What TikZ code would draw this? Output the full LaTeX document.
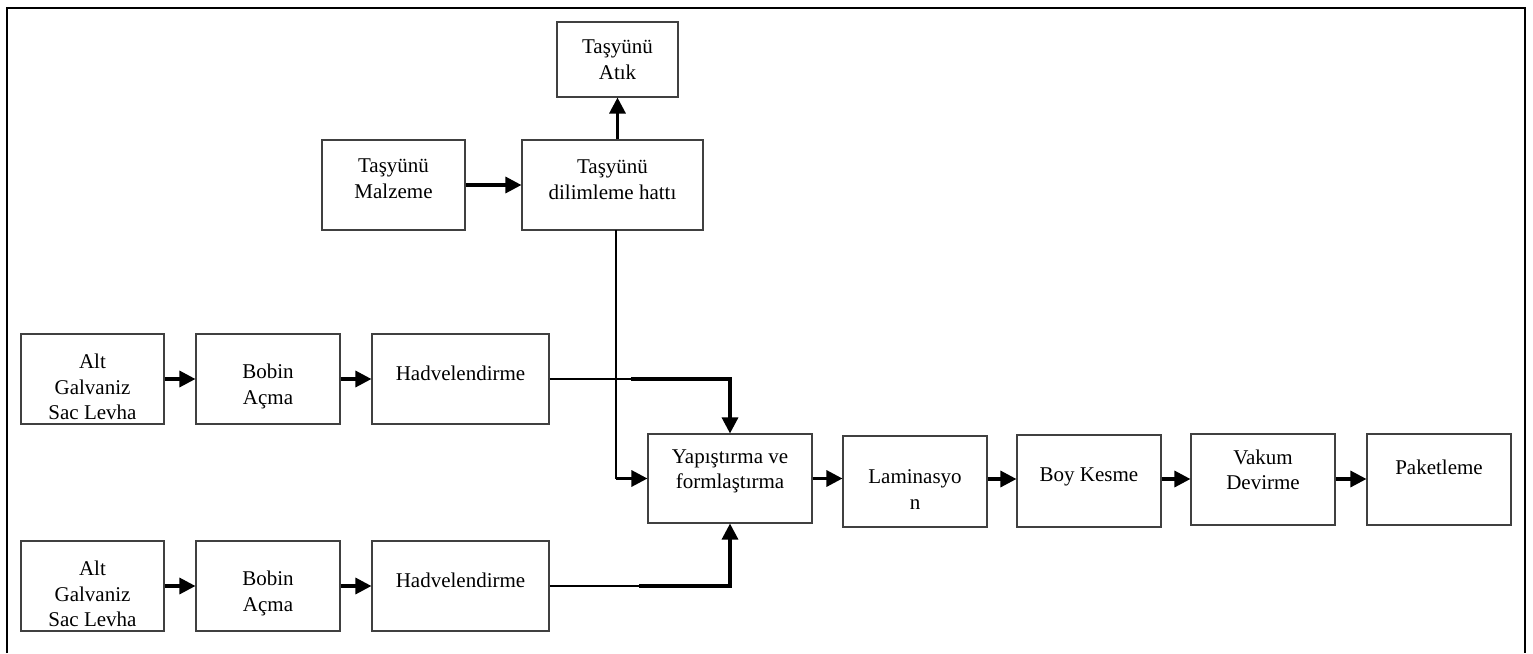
\documentclass[tikz,border=0pt]{standalone}
\usepackage{fontspec}
\setmainfont{Liberation Serif}
\usetikzlibrary{arrows.meta}
\begin{document}
\begin{tikzpicture}[x=1pt,y=-1pt,
  box/.style={draw=black!75,line width=1.1pt,rectangle,inner sep=0pt},
  txt/.style={align=center,inner sep=0pt,font=\fontsize{21}{25.5}\selectfont},
  thin/.style={draw=black,line width=1.1pt},
  arr/.style={draw=black,line width=3.2pt,-{Triangle[length=16pt,width=16pt]}},
  frame/.style={draw=black,line width=2.8pt}]
\useasboundingbox (0,0) rectangle (1533,653);
% frame (open at the bottom)
\draw[frame] (7,653) -- (7,8) -- (1525,8) -- (1525,653);
% boxes
\node[box,minimum width=121pt,minimum height=75pt] (atik) at (617.5,59.5) {};
\node[box,minimum width=143pt,minimum height=90pt] (malz) at (393.5,185) {};
\node[box,minimum width=181pt,minimum height=90pt] (dilim) at (612.5,185) {};
\node[box,minimum width=143pt,minimum height=90pt] (alt1) at (92.5,379) {};
\node[box,minimum width=144pt,minimum height=90pt] (bob1) at (268,379) {};
\node[box,minimum width=177pt,minimum height=90pt] (had1) at (460.5,379) {};
\node[box,minimum width=143pt,minimum height=90pt] (alt2) at (92.5,586) {};
\node[box,minimum width=144pt,minimum height=90pt] (bob2) at (268,586) {};
\node[box,minimum width=177pt,minimum height=90pt] (had2) at (460.5,586) {};
\node[box,minimum width=164pt,minimum height=89pt] (yap) at (730,478.5) {};
\node[box,minimum width=144pt,minimum height=91pt] (lam) at (915,481.5) {};
\node[box,minimum width=144pt,minimum height=92pt] (boy) at (1089,481) {};
\node[box,minimum width=144pt,minimum height=91pt] (vak) at (1263,479.5) {};
\node[box,minimum width=144pt,minimum height=91pt] (pak) at (1439,479.5) {};
% texts
\node[txt] (atikT) at (617.5,59.5) {Taşyünü\\Atık};
\node[txt] (malzT) at (393.5,178.5) {Taşyünü\\Malzeme};
\node[txt] (dilimT) at (612.5,179.5) {Taşyünü\\dilimleme hattı};
\node[txt] (alt1T) at (92.5,387) {Alt\\Galvaniz\\Sac Levha};
\node[txt] (bob1T) at (268,386.5) {Bobin\\Açma};
\node[txt] (had1T) at (460.5,373) {Hadvelendirme};
\node[txt] (alt2T) at (92.5,594) {Alt\\Galvaniz\\Sac Levha};
\node[txt] (bob2T) at (268,593.5) {Bobin\\Açma};
\node[txt] (had2T) at (460.5,580) {Hadvelendirme};
\node[txt] (yapT) at (730,471.5) {Yapıştırma ve\\formlaştırma};
\node[txt] (lamT) at (915,489.5) {Laminasyo\\n};
\node[txt] (boyT) at (1089,477) {Boy Kesme};
\node[txt] (vakT) at (1263,470) {Vakum\\Devirme};
\node[txt] (pakT) at (1439,467) {Paketleme};
% connectors
\draw[arr] (dilim.north -| atik.south) -- (atik.south);
\draw[arr] (malz.east) -- (dilim.west);
\draw[arr] (alt1.east) -- (bob1.west);
\draw[arr] (bob1.east) -- (had1.west);
\draw[arr] (alt2.east) -- (bob2.west);
\draw[arr] (bob2.east) -- (had2.west);
\draw[arr] (yap.east) -- (yap.east -| lam.west);
\draw[arr] (lam.east |- 0,479) -- (boy.west |- 0,479);
\draw[arr] (boy.east |- 0,479) -- (vak.west |- 0,479);
\draw[arr] (vak.east |- 0,479) -- (pak.west |- 0,479);
% dilimleme line down to Yapistirma
\coordinate (dtop) at (616,230);
\coordinate (dbend) at (616,478.5);
\draw[thin] (dtop) -- (dbend);
\draw[arr] (dbend) -- (yap.west);
% Hadvelendirme 1 to Yapistirma top
\coordinate (h1m) at (631,379);
\draw[thin] (had1.east) -- (h1m);
\draw[arr] (h1m) -- (h1m -| yap.north) -- (yap.north);
% Hadvelendirme 2 to Yapistirma bottom
\coordinate (h2m) at (639,586);
\draw[thin] (had2.east) -- (h2m);
\draw[arr] (h2m) -- (h2m -| yap.south) -- (yap.south);
\end{tikzpicture}
\end{document}
